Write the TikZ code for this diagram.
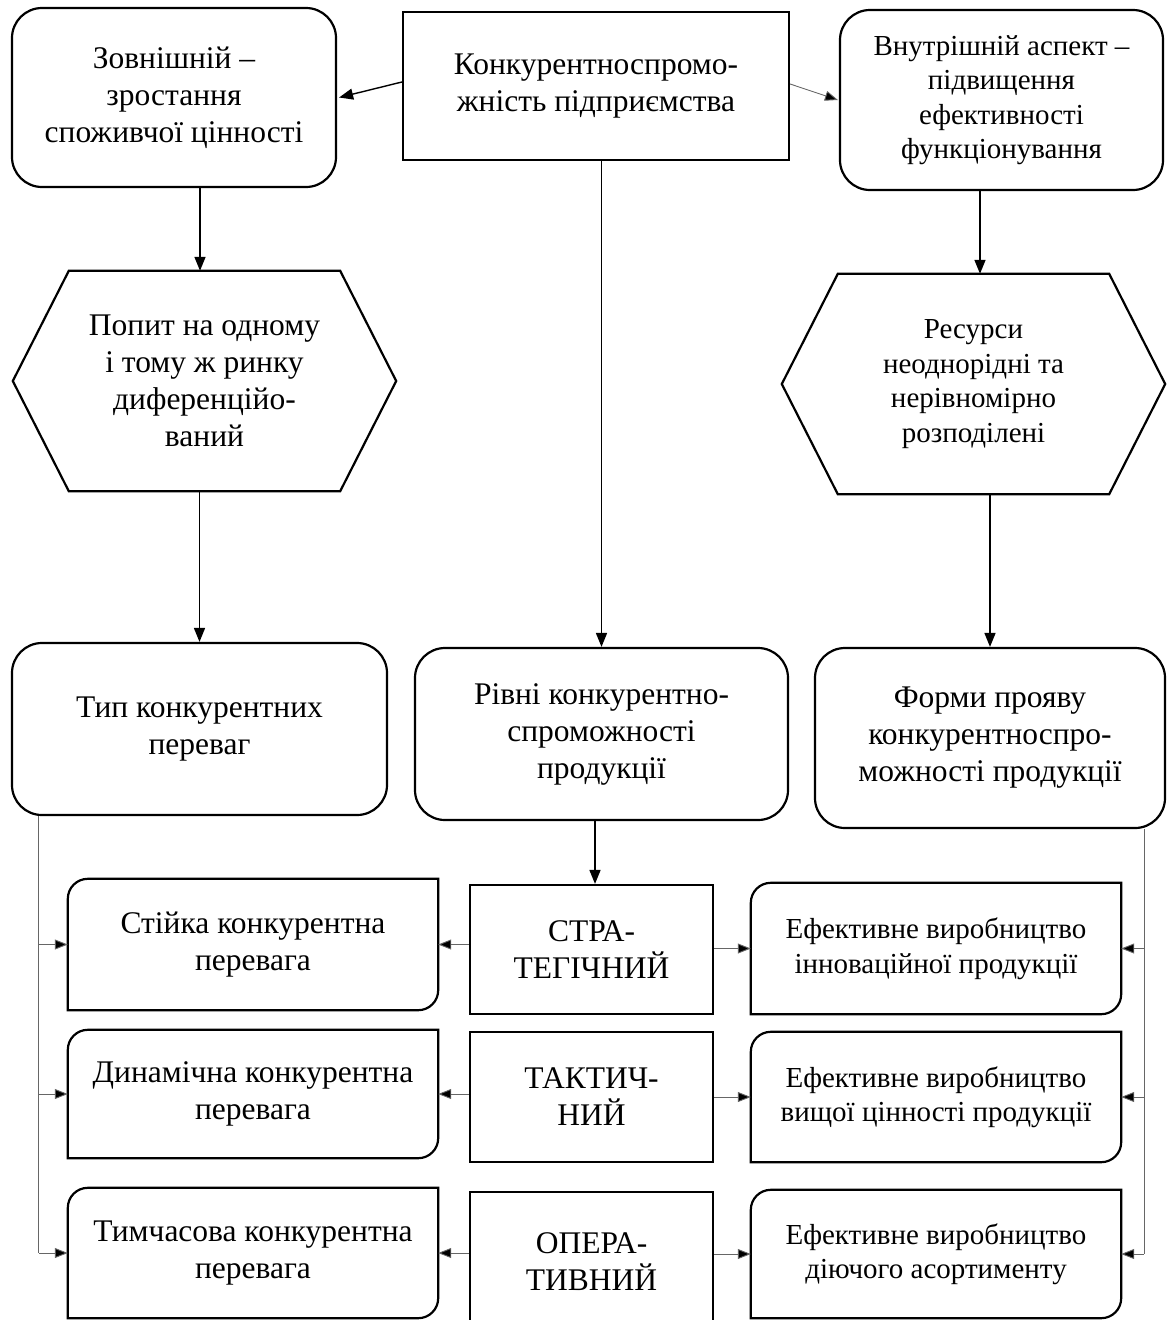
\documentclass[tikz,border=0pt]{standalone}
\usepackage{fontspec}
\setmainfont{Liberation Serif}
\usetikzlibrary{arrows.meta,calc}
\begin{document}
\begin{tikzpicture}[x=1pt,y=-1pt,
  txt/.style={align=center,font=\fontsize{31.5}{37}\selectfont,inner sep=0pt},
  small/.style={font=\fontsize{29}{34.5}\selectfont},
  rbox/.style={txt,draw,line width=2.2pt,rounded corners=30pt},
  sbox/.style={txt,draw,line width=2.2pt},
  ghost/.style={txt,draw=none},
  outl/.style={draw,line width=2.2pt},
  arr/.style={line width=1.6pt,-{Triangle[length=14pt,width=11pt]}},
  thin/.style={line width=0.9pt,draw=black!60},
  tarr/.style={thin,-{Triangle[length=13pt,width=10pt,fill=black]}}]
\useasboundingbox (0,0) rectangle (1174,1320);
% top row
\node[rbox,minimum width=324,minimum height=179] (zov) at (174,97.5) {Зовнішній –\\зростання\\споживчої цінності};
\node[sbox,minimum width=386,minimum height=148] (kon) at (596,86) {Конкурентноспромо-\\жність підприємства};
\node[rbox,small,minimum width=323,minimum height=180] (vnu) at (1001.5,100) {Внутрішній аспект –\\підвищення\\ефективності\\функціонування};
% hexagons
\node[ghost,minimum width=383,minimum height=220] (pop) at (204.5,381) {Попит на одному\\і тому ж ринку\\диференційо-\\ваний};
\draw[outl] (pop.west) -- ($(pop.north west)+(56,0)$) -- ($(pop.north east)+(-56,0)$) -- (pop.east) -- ($(pop.south east)+(-56,0)$) -- ($(pop.south west)+(56,0)$) -- cycle;
\node[ghost,small,minimum width=383,minimum height=220] (res) at (973.5,384) {Ресурси\\неоднорідні та\\нерівномірно\\розподілені};
\draw[outl] (res.west) -- ($(res.north west)+(56,0)$) -- ($(res.north east)+(-56,0)$) -- (res.east) -- ($(res.south east)+(-56,0)$) -- ($(res.south west)+(56,0)$) -- cycle;
% second row
\node[rbox,minimum width=375,minimum height=172] (tip) at (199.5,729) {Тип конкурентних\\переваг};
\node[rbox,minimum width=373,minimum height=172] (riv) at (601.5,734) {Рівні конкурентно-\\спроможності\\продукції};
\node[rbox,minimum width=350,minimum height=180] (form) at (990,738) {Форми прояву\\конкурентноспро-\\можності продукції};
% bottom side columns
\node[ghost,minimum width=370,minimum height=131] (L1) at (253,944.5) {Стійка конкурентна\\перевага};
\node[ghost,minimum width=370,minimum height=128] (L2) at (253,1094) {Динамічна конкурентна\\перевага};
\node[ghost,minimum width=370,minimum height=130] (L3) at (253,1253) {Тимчасова конкурентна\\перевага};
\node[ghost,small,minimum width=370,minimum height=131] (R1) at (936,948.5) {Ефективне виробництво\\інноваційної продукції};
\node[ghost,small,minimum width=370,minimum height=130] (R2) at (936,1097) {Ефективне виробництво\\вищої цінності продукції};
\node[ghost,small,minimum width=370,minimum height=128] (R3) at (936,1254) {Ефективне виробництво\\діючого асортименту};
\foreach \b in {L1,L2,L3,R1,R2,R3}{
  \draw[outl] (\b.south west) [rounded corners=20pt] -- (\b.north west) [sharp corners] -- (\b.north east) [rounded corners=20pt] -- (\b.south east) [sharp corners] -- cycle;
}
% middle column
\node[sbox,minimum width=243,minimum height=129] (M1) at (591.5,949.5) {СТРА-\\ТЕГІЧНИЙ};
\node[sbox,minimum width=243,minimum height=130] (M2) at (591.5,1097) {ТАКТИЧ-\\НИЙ};
\node[sbox,minimum width=243,minimum height=140] (M3) at (591.5,1262) {ОПЕРА-\\ТИВНИЙ};
% connectors top
\draw[arr,line width=1.4pt] ($(kon.west)+(0,-4)$) -- ($(zov.east)+(2,0)$);
\draw[tarr] ($(kon.east)+(0,-2)$) -- ($(vnu.west)+(-1,0)$);
\draw[arr] (zov.south -| 200,0) -- (pop.north -| 200,0);
\draw[arr] (vnu.south -| 980,0) -- (res.north -| 980,0);
\draw[arr] (pop.south -| tip.north) -- (tip.north);
\draw[arr] (kon.south -| riv.north) -- (riv.north);
\draw[arr] (res.south -| form.north) -- (form.north);
\draw[arr] (riv.south -| 595,0) -- (M1.north -| 595,0);
% buses
\coordinate (lb) at ($(tip.south west)+(28,0)$);
\coordinate (rb) at ($(form.south east)+(-22,0)$);
\draw[thin] (lb) -- (lb |- L3.west);
\draw[thin] (rb) -- (rb |- R3.east);
\foreach \b in {L1,L2,L3}{\draw[tarr] (lb |- \b.west) -- (\b.west);}
\foreach \b in {R1,R2,R3}{\draw[tarr] (rb |- \b.east) -- (\b.east);}
\foreach \m/\l/\r in {M1/L1/R1,M2/L2/R2,M3/L3/R3}{
  \draw[tarr] (\m.west |- \l.east) -- (\l.east);
  \draw[tarr] (\m.east |- \r.west) -- (\r.west);
}
\end{tikzpicture}
\end{document}
